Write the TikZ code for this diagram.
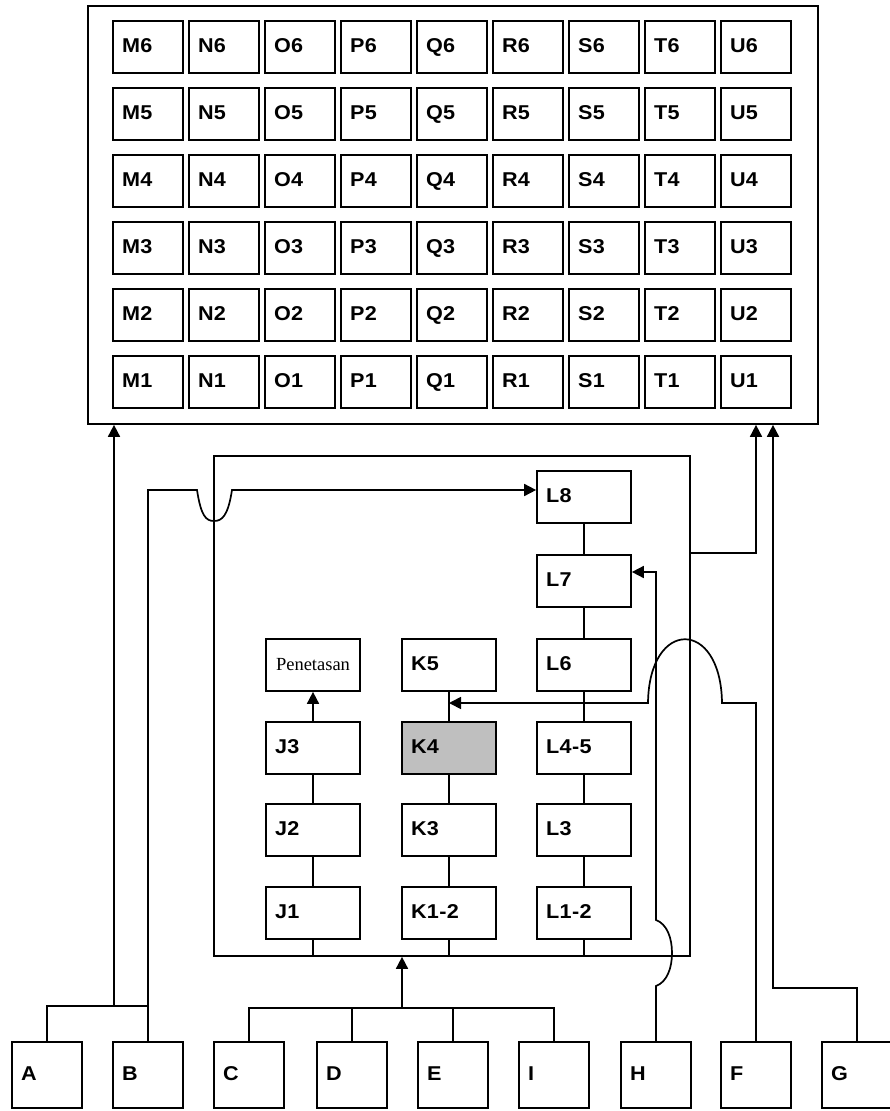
\documentclass[tikz,border=0pt]{standalone}
\usepackage{fontspec}
\setmainfont{Liberation Serif}
\setsansfont{Liberation Sans}
\newfontfamily\labelfont{Liberation Sans}[FakeStretch=1.08, LetterSpace=2]
\usetikzlibrary{arrows.meta}

\begin{document}
\begin{tikzpicture}[
    x=1pt, y=-1pt,
    line width=1.7pt,
    cell/.style={draw, rectangle, minimum height=52pt, inner xsep=9pt,
      text width=52pt, align=left, text height=14.5pt, text depth=4pt,
      font=\labelfont\bfseries\fontsize{20}{23}\selectfont},
    stage/.style={cell, text width=76pt},
    hatchery/.style={stage, align=center,
      font=\rmfamily\fontsize{18.5}{22}\selectfont},
    source/.style={cell, minimum height=66pt},
    frame/.style={draw, rectangle, inner sep=0pt},
    flow/.style={-{Triangle[length=12pt,width=12pt]}}
  ]
  \useasboundingbox (0,0) rectangle (890,1111);

  % Top field: grid M..U, rows 1..6
  \node[frame, minimum width=730pt, minimum height=418pt] (field) at (453,215) {};
  \foreach \col [count=\i from 0] in {M,N,O,P,Q,R,S,T,U}
    \foreach \r in {1,...,6}
      \node[cell] (\col\r) at (148+76*\i, 382-67*\r+67) {\col\r};

  % Inner frame: stages J, K, L
  \node[frame, minimum width=476pt, minimum height=500pt] (hatch) at (452,706) {};
  \node[stage] (J1) at (313,913) {J1};
  \node[stage] (J2) at (313,830) {J2};
  \node[stage] (J3) at (313,748) {J3};
  \node[hatchery] (pen) at (313,665) {Penetasan};
  \node[stage] (K12) at (449,913) {K1-2};
  \node[stage] (K3) at (449,830) {K3};
  \node[stage, fill=black!25] (K4) at (449,748) {K4};
  \node[stage] (K5) at (449,665) {K5};
  \node[stage] (L12) at (584,913) {L1-2};
  \node[stage] (L3) at (584,830) {L3};
  \node[stage] (L45) at (584,748) {L4-5};
  \node[stage] (L6) at (584,665) {L6};
  \node[stage] (L7) at (584,581) {L7};
  \node[stage] (L8) at (584,497) {L8};

  \draw (J1) -- (J2);
  \draw (J2) -- (J3);
  \draw[flow] (J3) -- (pen);
  \draw (K12) -- (K3);
  \draw (K3) -- (K4);
  \draw (K4) -- (K5);
  \draw (L12) -- (L3);
  \draw (L3) -- (L45);
  \draw (L45) -- (L6);
  \draw (L6) -- (L7);
  \draw (L7) -- (L8);
  \draw (J1) -- (J1 |- hatch.south);
  \draw (K12) -- (K12 |- hatch.south);
  \draw (L12) -- (L12 |- hatch.south);

  % Sources along the bottom
  \node[source] (A) at (47,1075) {A};
  \node[source] (B) at (148,1075) {B};
  \node[source] (C) at (249,1075) {C};
  \node[source] (D) at (352,1075) {D};
  \node[source] (E) at (453,1075) {E};
  \node[source] (I) at (554,1075) {I};
  \node[source] (H) at (656,1075) {H};
  \node[source] (F) at (756,1075) {F};
  \node[source] (G) at (857,1075) {G};

  % A and B
  \coordinate (ab) at (114,1006);
  \draw (A.north) |- (ab) -| (B.north);
  \draw[flow] (ab) -- (ab |- field.south);
  \coordinate (b8) at (232,490);
  \draw[flow] (B.north) |- (197,490)
    .. controls (201,516) and (206,521) .. (214,521)
    .. controls (222,521) and (228,516) .. (b8)
    -- (L8.west |- b8);

  % C, D, E, I
  \coordinate (cdei) at (402,1008);
  \draw (C.north) |- (cdei) -| (I.north);
  \draw (D.north) -- (D.north |- cdei);
  \draw (E.north) -- (E.north |- cdei);
  \draw[flow] (cdei) -- (cdei |- hatch.south);

  % H
  \coordinate (h7) at (656,572);
  \draw[flow] (H.north) -- (656,986)
    .. controls (667,982) and (672,968) .. (672,953)
    .. controls (672,938) and (667,924) .. (656,920)
    -- (h7) -- (L7.east |- h7);

  % F
  \coordinate (fturn) at (756,703);
  \draw[flow] (F.north) -- (fturn) -- (722,703)
    .. controls (721,618) and (649,618) .. (648,703)
    -- (K4.north |- fturn);

  % Out of the inner frame, and G
  \coordinate (out) at (690,553);
  \draw[flow] (hatch.east |- out) -| (F.north |- field.south);
  \coordinate (g) at (773,988);
  \draw[flow] (G.north) |- (g) -- (g |- field.south);
\end{tikzpicture}
\end{document}
